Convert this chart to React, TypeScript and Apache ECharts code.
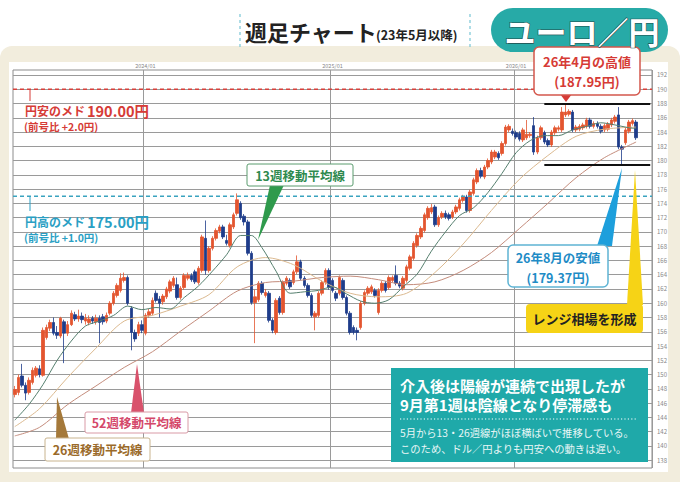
import React, { useEffect, useRef } from "react";
import * as echarts from "echarts";

// ---- data ----
const WEEK_START = "2023-04-17";
const WEEK_COUNT = 181;
const YEAR_MARKS = ["2024/01/01", "2025/01/06", "2026/01/05"];
const Y_TICKS = [138, 140, 142, 144, 146, 148, 150, 152, 154, 156, 158, 160, 162, 164, 166, 168, 170, 172, 174, 176, 178, 180, 182, 184, 186, 188, 190, 192];

// [open, close, low, high]
const CANDLES: number[][] = [
  [147.2, 147.9, 146.8, 148.4], [147.5, 149.6, 147.1, 150.0], [149.8, 148.5, 148.2, 151.5], [148.5, 147.4, 146.4, 148.9],
  [147.5, 149.2, 147.2, 149.6], [148.9, 150.6, 148.6, 151.0], [149.9, 150.9, 149.6, 151.2], [150.8, 150.0, 149.6, 151.3],
  [149.9, 156.2, 149.7, 156.6], [155.2, 156.6, 154.9, 157.0], [156.5, 157.3, 156.1, 157.7], [157.3, 155.8, 155.5, 158.0],
  [155.9, 155.5, 155.0, 156.8], [155.4, 157.9, 155.1, 158.1], [157.4, 155.8, 151.6, 157.7], [155.8, 157.0, 155.4, 157.5],
  [157.0, 158.6, 156.8, 159.0], [158.4, 157.8, 157.5, 158.8], [157.8, 158.2, 157.4, 159.1], [158.2, 157.7, 157.2, 158.7],
  [157.5, 157.9, 157.0, 158.5], [157.3, 157.8, 156.9, 158.3], [157.9, 157.5, 157.1, 158.2], [157.4, 157.9, 157.0, 158.4],
  [157.9, 157.3, 154.4, 158.3], [158.1, 157.4, 157.0, 158.5], [157.5, 158.3, 157.2, 158.7], [158.6, 160.0, 158.3, 160.3],
  [160.0, 161.4, 159.7, 161.7], [161.1, 162.5, 160.8, 162.8], [161.8, 163.5, 161.5, 164.2], [163.2, 163.6, 162.9, 164.3],
  [163.6, 160.0, 159.7, 163.9], [159.3, 155.9, 153.4, 159.6], [155.9, 155.0, 154.6, 156.3], [155.8, 157.0, 155.4, 157.4],
  [157.0, 156.2, 155.8, 157.6], [155.8, 158.3, 155.5, 158.6], [158.3, 158.8, 158.0, 159.2], [158.6, 160.4, 158.3, 160.8],
  [161.4, 160.4, 160.1, 161.8], [160.6, 160.0, 158.0, 161.0], [160.2, 161.0, 159.8, 161.3], [160.9, 162.0, 160.6, 162.3],
  [161.7, 163.0, 161.4, 163.3], [162.5, 163.5, 162.2, 163.8], [162.6, 160.8, 160.5, 163.6], [160.8, 162.1, 160.5, 162.4],
  [162.2, 163.9, 161.9, 164.2], [163.5, 163.9, 163.2, 164.3], [163.9, 163.3, 163.0, 164.2], [164.4, 163.0, 162.7, 164.7],
  [162.9, 164.9, 162.6, 165.2], [164.6, 169.3, 164.3, 169.6], [169.1, 164.6, 164.0, 171.6], [164.6, 167.7, 164.3, 168.0],
  [167.7, 169.1, 167.4, 169.4], [169.1, 170.2, 168.8, 170.5], [170.1, 170.7, 169.8, 171.0], [170.7, 169.3, 169.0, 171.0],
  [168.8, 168.4, 168.1, 169.6], [168.1, 171.0, 167.8, 171.3], [170.7, 172.4, 170.4, 172.7], [172.6, 174.5, 172.3, 175.4],
  [174.0, 172.0, 171.7, 174.3], [172.2, 171.4, 170.9, 172.5], [171.4, 167.0, 166.7, 171.7], [167.0, 160.1, 159.8, 167.3],
  [160.1, 160.9, 154.4, 161.9], [160.5, 162.8, 160.2, 163.1], [162.8, 161.5, 161.2, 163.1], [161.1, 161.5, 160.8, 162.0],
  [161.4, 157.6, 157.3, 161.7], [157.6, 156.2, 155.8, 157.9], [155.9, 160.4, 155.6, 160.7], [160.7, 158.7, 158.4, 161.0],
  [158.7, 162.9, 158.4, 163.2], [162.8, 163.5, 162.5, 163.8], [163.2, 162.3, 162.0, 163.5], [162.9, 164.4, 162.6, 164.7],
  [164.4, 165.8, 164.1, 166.7], [165.8, 163.5, 163.2, 166.1], [163.5, 162.5, 162.2, 163.8], [162.5, 161.1, 160.8, 162.8],
  [161.1, 158.3, 158.0, 161.4], [158.1, 158.6, 156.2, 158.9], [158.3, 161.4, 158.0, 161.7], [161.4, 162.9, 161.1, 163.2],
  [162.9, 164.6, 162.6, 164.9], [164.6, 162.2, 161.9, 164.9], [163.2, 161.8, 161.5, 163.5], [161.4, 160.7, 160.3, 161.7],
  [161.4, 163.6, 161.1, 163.9], [163.2, 160.8, 160.5, 163.5], [160.8, 158.6, 158.3, 161.1], [158.6, 155.9, 155.6, 158.9],
  [156.6, 155.9, 155.6, 156.9], [156.2, 155.9, 154.8, 156.6], [156.6, 160.0, 156.3, 160.3], [160.0, 161.5, 159.7, 161.8],
  [161.4, 162.1, 161.1, 162.4], [161.6, 162.3, 161.3, 162.6], [161.8, 161.1, 160.8, 162.1], [158.7, 161.8, 158.4, 162.1],
  [161.8, 162.8, 161.5, 163.1], [162.8, 161.8, 161.5, 163.1], [162.2, 163.6, 161.9, 163.9], [163.2, 163.6, 162.9, 163.9],
  [163.9, 162.8, 162.5, 165.3], [162.8, 162.4, 162.1, 163.1], [162.1, 163.5, 161.8, 163.8], [163.2, 165.1, 162.9, 165.4],
  [164.9, 166.5, 164.6, 166.8], [166.3, 168.4, 166.0, 168.7], [168.1, 169.5, 167.8, 169.8], [169.3, 170.5, 169.0, 170.8],
  [170.2, 172.4, 169.9, 172.7], [172.0, 173.3, 171.7, 173.6], [172.8, 173.4, 172.5, 173.9], [173.5, 171.0, 170.7, 173.8],
  [171.0, 172.0, 170.7, 172.3], [172.1, 172.6, 171.8, 172.9], [172.6, 172.1, 171.8, 173.0], [172.4, 171.9, 171.6, 172.7],
  [172.1, 172.8, 171.8, 173.1], [172.8, 173.5, 172.5, 173.8], [173.3, 174.5, 173.0, 174.8], [174.4, 174.9, 174.1, 175.2],
  [174.9, 173.0, 172.7, 175.2], [173.0, 175.6, 172.7, 175.9], [175.4, 177.3, 175.1, 177.6], [177.0, 178.6, 176.7, 178.9],
  [178.6, 177.8, 177.5, 179.0], [177.7, 179.1, 177.4, 179.4], [179.1, 180.0, 178.8, 180.3], [179.8, 181.2, 179.5, 181.5],
  [180.5, 181.2, 180.2, 181.5], [181.0, 180.4, 180.1, 181.3], [181.0, 182.4, 180.7, 182.7], [182.4, 184.7, 182.1, 185.0],
  [184.3, 184.8, 184.0, 185.1], [184.1, 183.8, 183.5, 184.5], [183.9, 183.3, 183.0, 184.2], [183.8, 183.0, 182.7, 184.1],
  [182.9, 184.3, 182.6, 184.6], [183.2, 183.7, 182.9, 185.7], [183.5, 183.7, 183.2, 184.0], [184.9, 181.2, 180.8, 186.1],
  [181.2, 183.2, 180.9, 183.5], [183.2, 184.6, 182.9, 184.9], [183.9, 182.6, 182.3, 184.2], [182.8, 182.2, 181.9, 183.1],
  [182.2, 184.0, 181.9, 184.3], [183.9, 184.6, 183.6, 184.9], [184.4, 184.6, 184.1, 184.9], [184.3, 186.8, 184.0, 187.5],
  [186.4, 186.8, 186.1, 187.95], [186.5, 186.9, 186.2, 187.2], [186.8, 184.3, 184.0, 187.1], [184.3, 184.7, 184.0, 185.0],
  [184.4, 184.8, 184.1, 185.1], [184.6, 185.0, 184.3, 185.3], [184.8, 185.7, 184.5, 186.0], [185.7, 184.8, 184.5, 186.0],
  [184.8, 185.2, 184.5, 185.5], [185.2, 184.8, 184.5, 185.5], [184.8, 184.1, 183.8, 185.1], [184.3, 184.9, 184.0, 185.2],
  [184.4, 185.1, 184.1, 185.4], [185.0, 185.7, 184.7, 186.0], [185.5, 186.1, 185.2, 186.4], [186.4, 181.9, 181.6, 187.5],
  [181.9, 181.6, 179.37, 182.2], [182.5, 184.3, 182.2, 184.6], [184.1, 185.4, 183.8, 185.7], [185.2, 185.6, 184.9, 185.9],
  [185.4, 183.2, 182.9, 185.7],
];

// moving averages: [week index, value]
const MA13: number[][] = [
  [0, 143.6], [4, 145.8], [8, 148.6], [12, 152.0], [16, 154.7], [20, 156.8], [24, 157.5], [28, 158.3], [32, 159.6],
  [36, 159.1], [40, 159.4], [44, 159.2], [48, 160.8], [52, 162.4], [56, 164.5], [60, 166.8], [64, 169.5], [67, 169.5],
  [70, 167.8], [74, 164.5], [78, 161.4], [82, 161.6], [86, 161.8], [90, 162.3], [94, 161.3], [98, 160.3], [102, 160.0],
  [106, 160.5], [110, 162.3], [114, 164.1], [118, 167.3], [122, 170.0], [126, 172.3], [130, 173.4], [134, 175.5],
  [138, 178.2], [142, 181.1], [146, 182.8], [150, 183.5], [154, 183.5], [158, 184.3], [162, 184.8], [166, 185.3],
  [170, 185.0], [174, 184.6], [176, 184.5],
];
const MA26: number[][] = [
  [0, 142.7], [7, 145.2], [15, 149.6], [23, 153.7], [31, 157.5], [39, 158.3], [47, 159.6], [55, 161.2], [63, 165.1],
  [71, 166.4], [79, 165.4], [87, 163.1], [95, 161.4], [103, 160.9], [111, 161.4], [119, 164.3], [127, 168.3],
  [135, 173.0], [143, 177.4], [151, 180.7], [159, 183.4], [167, 184.4], [176, 184.7],
];
const MA52: number[][] = [
  [0, 141.4], [7, 142.6], [15, 145.8], [23, 148.4], [31, 151.0], [39, 153.2], [47, 156.1], [55, 158.9], [63, 161.7],
  [71, 162.9], [79, 163.1], [87, 163.6], [95, 163.8], [103, 163.3], [111, 162.6], [119, 163.0], [127, 164.6],
  [135, 167.1], [143, 170.5], [151, 174.0], [159, 177.6], [167, 180.4], [176, 182.6],
];

const TARGET_WEAK_YEN = 190;
const TARGET_STRONG_YEN = 175;
const RANGE_HIGH = 187.95;
const RANGE_LOW = 179.37;
const RANGE_FROM = 150;
const RANGE_TO = 180;

function weekCategories(): string[] {
  const out: string[] = [];
  const t0 = new Date(WEEK_START + "T00:00:00Z").getTime();
  for (let i = 0; i < WEEK_COUNT; i++) {
    const d = new Date(t0 + i * 7 * 86400000);
    out.push(
      `${d.getUTCFullYear()}/${String(d.getUTCMonth() + 1).padStart(2, "0")}/${String(d.getUTCDate()).padStart(2, "0")}`
    );
  }
  return out;
}

const FONT = '"Noto Sans CJK JP", "Noto Sans", sans-serif';

function txt(x: number, y: number, text: string, size: number, fill: string, align = "left", extra: any = {}) {
  return {
    type: "text",
    x,
    y,
    z: 120,
    silent: true,
    style: {
      text,
      fontSize: size,
      fontWeight: "bold",
      fontFamily: FONT,
      fill,
      textAlign: align,
      align,
      textVerticalAlign: "middle",
      verticalAlign: "middle",
      ...extra,
    },
  };
}
function rect(x: number, y: number, w: number, h: number, style: any, r: any = 0, z = 110) {
  return { type: "rect", z, silent: true, shape: { x, y, width: w, height: h, r }, style };
}
function poly(points: number[][], fill: string, z = 108) {
  return { type: "polygon", z, silent: true, shape: { points }, style: { fill } };
}
function seg(x1: number, y1: number, x2: number, y2: number, stroke: string, lineWidth = 1, lineDash: any = null, z = 110) {
  return { type: "line", z, silent: true, shape: { x1, y1, x2, y2 }, style: { stroke, lineWidth, lineDash } };
}

export default function App() {
  const ref = useRef<HTMLDivElement>(null);
  useEffect(() => {
    if (!ref.current) return;
    const chart = echarts.init(ref.current, null, { renderer: "svg" });
    const cats = weekCategories();
    const isYear = (_i: number, v: string) => YEAR_MARKS.includes(v);
    const BEIGE = "#f2eddd";
    const RED = "#d63b36";
    const TEAL = "#2a9fc4";

    const graphic: any[] = [
      // frame
      rect(0, 46, 680, 16, { fill: BEIGE }, [12, 12, 0, 0], 50),
      rect(0, 58, 9, 424, { fill: BEIGE }, 0, 50),
      rect(668, 58, 12, 424, { fill: BEIGE }, 0, 50),
      rect(0, 472, 680, 10, { fill: BEIGE }, 0, 50),
      // title
      seg(240, 14, 240, 50, "#79c6d6", 1.2, [3, 3]),
      seg(470, 14, 470, 50, "#79c6d6", 1.2, [3, 3]),
      txt(245, 31, "週足チャート", 22, "#222"),
      txt(376, 34, "(23年5月以降)", 12.5, "#222"),
      rect(491, 8, 177, 44, { fill: "#27aaa7" }, 22, 110),
      txt(582, 30, "ユーロ／円", 31, "#ffffff", "center", { stroke: "#1f4d4c", lineWidth: 1.2 }),
      // 190 label
      seg(30, 89, 30, 101, RED, 1),
      txt(25, 110, "円安のメド", 12, RED),
      txt(87, 110, "190.00円", 14.5, RED),
      txt(24, 126, "(前号比 +2.0円)", 10.5, RED),
      // 175 label
      seg(30, 197, 30, 211, TEAL, 1),
      txt(25, 221, "円高のメド", 12, TEAL),
      txt(87, 221, "175.00円", 14.5, TEAL),
      txt(24, 237, "(前号比 +1.0円)", 10.5, TEAL),
      // 13w
      poly([[270, 185], [284, 185], [258, 240]], "#2f9a4c"),
      rect(247, 164, 106, 22, { fill: "#fff", stroke: "#5a9c6e", lineWidth: 1 }, 2),
      txt(300, 175, "13週移動平均線", 12.5, "#2e8a4e", "center"),
      // 52w
      poly([[131, 413], [144, 413], [137, 364]], "#d9526c"),
      rect(85, 412, 103, 21, { fill: "#fff", stroke: "#d99aa6", lineWidth: 1 }, 2),
      txt(136.5, 422.5, "52週移動平均線", 12.5, "#d4486a", "center"),
      // 26w
      poly([[56, 439], [69, 439], [57, 397]], "#a5793a"),
      rect(45, 438, 105, 23, { fill: "#fff", stroke: "#c9b48e", lineWidth: 1 }, 2),
      txt(97.5, 449.5, "26週移動平均線", 12.5, "#9a6a2a", "center"),
      // high box
      poly([[560, 94], [572, 94], [566, 102]], RED),
      rect(534, 47, 106, 48, { fill: "#fff", stroke: "#d4574c", lineWidth: 1.5 }, 5),
      txt(587, 61, "26年4月の高値", 13, RED, "center"),
      txt(587, 81, "(187.95円)", 13, RED, "center"),
      // low box
      poly([[597, 246], [612, 246], [622, 168]], "#1d9fdc"),
      rect(508, 245, 100, 42, { fill: "#fff", stroke: "#5fb4d4", lineWidth: 1.5 }, 5),
      txt(558, 257, "26年8月の安値", 12.5, "#1f8cc6", "center"),
      txt(558, 277, "(179.37円)", 12.5, "#1f8cc6", "center"),
      // range box
      poly([[627, 305], [643, 305], [635, 170]], "#f6d316"),
      rect(526, 304, 117, 29, { fill: "#f6d316" }, 4),
      txt(584.5, 318.5, "レンジ相場を形成", 13, "#222", "center"),
      // info box
      rect(391, 368, 257, 94, { fill: "#1fa9a9" }, 0),
      txt(400, 385, "介入後は陽線が連続で出現したが", 15, "#fff"),
      txt(400, 404, "9月第1週は陰線となり停滞感も", 15, "#fff"),
      seg(400, 419, 637, 419, "#ffffff", 1.2, [1.2, 2.2], 121),
      txt(400, 432, "5月から13・26週線がほぼ横ばいで推移している。", 10.3, "#eaf7f7", "left", { fontWeight: "normal" }),
      txt(400, 448, "このため、ドル／円よりも円安への動きは遅い。", 10.3, "#eaf7f7", "left", { fontWeight: "normal" }),
    ];

    const flatLine = (y: number, from: number, to: number) => [[from, y], [to, y]];

    chart.setOption({
      animation: false,
      backgroundColor: "#ffffff",
      textStyle: { fontFamily: FONT },
      grid: { left: 13, right: 28, top: 70, bottom: 14, show: true, borderColor: "#8c8c8c", borderWidth: 1, backgroundColor: "transparent" },
      xAxis: [
        {
          type: "category",
          data: cats,
          position: "top",
          boundaryGap: true,
          axisLine: { show: false },
          axisTick: { show: false },
          axisLabel: { interval: isYear, formatter: (v: string) => v.slice(0, 7), fontSize: 5.5, color: "#888", margin: 1 },
          splitLine: { show: true, interval: isYear, lineStyle: { color: "#9a9a9a", width: 1 } },
        },
        { type: "value", min: -0.5, max: WEEK_COUNT - 0.5, show: false, splitLine: { show: false } },
      ],
      yAxis: {
        type: "value",
        position: "right",
        min: 136.9,
        max: 192.7,
        axisLine: { show: false },
        axisTick: { show: false, customValues: Y_TICKS },
        axisLabel: { customValues: Y_TICKS, fontSize: 6, color: "#888", margin: 5 },
        splitLine: { show: true, lineStyle: { color: "#9a9a9a", width: 1 } },
      },
      series: [
        { name: "52週", type: "line", xAxisIndex: 1, data: MA52, smooth: 0.3, symbol: "none", silent: true, lineStyle: { color: "#c48c7c", width: 1 } },
        { name: "26週", type: "line", xAxisIndex: 1, data: MA26, smooth: 0.3, symbol: "none", silent: true, lineStyle: { color: "#dbb98f", width: 1 } },
        { name: "13週", type: "line", xAxisIndex: 1, data: MA13, smooth: 0.3, symbol: "none", silent: true, lineStyle: { color: "#557f6e", width: 1 } },
        {
          name: "ユーロ／円",
          type: "candlestick",
          xAxisIndex: 0,
          data: CANDLES,
          barWidth: 3,
          itemStyle: { color: "#e3552f", color0: "#1e3c8a", borderColor: "#e3552f", borderColor0: "#1e3c8a", borderWidth: 0.8 },
        },
        { type: "line", xAxisIndex: 1, data: flatLine(TARGET_WEAK_YEN, -0.5, WEEK_COUNT - 0.5), symbol: "none", silent: true, lineStyle: { color: "#d8403a", width: 1.4, type: [4, 3] } },
        { type: "line", xAxisIndex: 1, data: flatLine(TARGET_STRONG_YEN, -0.5, WEEK_COUNT - 0.5), symbol: "none", silent: true, lineStyle: { color: "#3aa3bf", width: 1.4, type: [4, 3] } },
        { type: "line", xAxisIndex: 1, data: flatLine(RANGE_HIGH, RANGE_FROM, RANGE_TO), symbol: "none", silent: true, z: 5, lineStyle: { color: "#111", width: 2 } },
        { type: "line", xAxisIndex: 1, data: flatLine(RANGE_LOW, RANGE_FROM, RANGE_TO), symbol: "none", silent: true, z: 5, lineStyle: { color: "#111", width: 2 } },
      ],
      graphic,
    });
    return () => chart.dispose();
  }, []);
  return <div ref={ref} style={{ position: "fixed", left: 0, top: 0, width: 680, height: 482 }} />;
}
